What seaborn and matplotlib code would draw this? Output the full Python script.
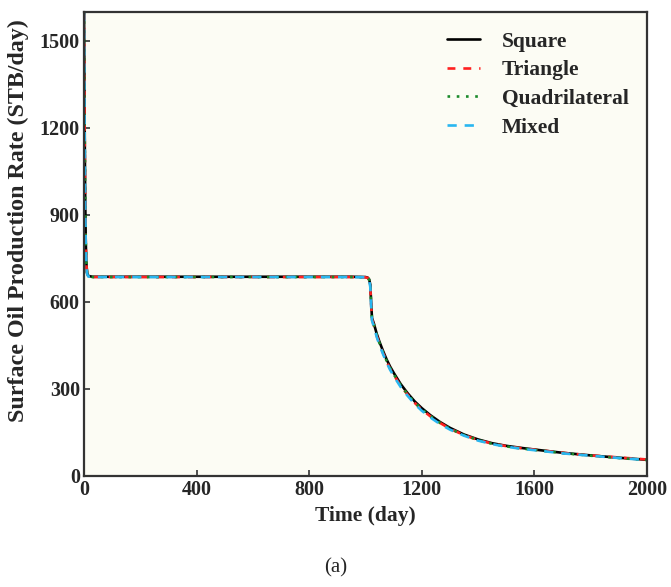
import numpy as np
import pandas as pd
import matplotlib
matplotlib.use("Agg")
import matplotlib.pyplot as plt
import seaborn as sns

# ---- data ----
time = [0, 2, 4, 6, 8, 11, 15, 30, 200, 400, 600, 800, 950, 1000, 1008, 1013, 1017, 1020, 1023,
        1030, 1040, 1050, 1062, 1075, 1087, 1100, 1125, 1150, 1175, 1200, 1230, 1265, 1300, 1350,
        1400, 1450, 1500, 1560, 1620, 1700, 1800, 1900, 2000]
square = [1600, 1250, 980, 820, 740, 700, 690, 687, 687, 687, 687, 687, 687, 686, 684, 678, 660, 600, 545,
          525, 490, 462, 432, 402, 378, 356, 317, 285, 257, 234, 210, 186, 166, 143,
          126, 113, 104, 96, 89, 80, 71, 63, 56]
triangle = [1600, 1240, 970, 815, 735, 698, 689, 686, 686, 686, 686, 686, 686, 685, 683, 676, 655, 592, 540,
            518, 483, 455, 425, 395, 371, 349, 311, 280, 252, 229, 206, 183, 163, 141,
            124, 112, 103, 95, 89, 80, 71, 64, 57]
quadrilateral = [1600, 1245, 975, 818, 738, 699, 689, 686, 686, 686, 686, 686, 686, 685, 683, 677, 658, 596, 542,
                 520, 486, 457, 427, 397, 373, 351, 313, 281, 253, 230, 207, 183, 163, 141,
                 124, 111, 102, 94, 88, 79, 70, 62, 55]
mixed = [1600, 1235, 965, 810, 732, 697, 688, 686, 686, 686, 686, 686, 686, 685, 682, 675, 652, 588, 536,
         514, 479, 451, 421, 391, 367, 345, 307, 276, 248, 225, 202, 179, 160, 139,
         122, 110, 101, 93, 87, 78, 70, 62, 55]

series_names = ["Square", "Triangle", "Quadrilateral", "Mixed"]
x_ticks = [0, 400, 800, 1200, 1600, 2000]
y_ticks = [0, 300, 600, 900, 1200, 1500]

df = pd.concat([
    pd.DataFrame({"Time": time, "Rate": vals, "Grid": name})
    for name, vals in zip(series_names, [square, triangle, quadrilateral, mixed])
], ignore_index=True)

sns.set_style("ticks")
plt.rcParams["font.family"] = ["Liberation Serif", "DejaVu Serif"]

fig = plt.figure(figsize=(6.71, 5.87), dpi=100)
ax = fig.add_axes([0.1252, 0.1891, 0.8390, 0.7905])
ax.set_facecolor("#fcfcf4")

palette = {"Square": "#000000", "Triangle": "#ff2020", "Quadrilateral": "#1a8a2a", "Mixed": "#29b6f0"}
dashes = {"Square": "", "Triangle": (3, 3), "Quadrilateral": (1, 2.5, 1, 2.5), "Mixed": (3.5, 3)}

sns.lineplot(data=df, x="Time", y="Rate", hue="Grid", style="Grid",
             hue_order=series_names, style_order=series_names,
             palette=palette, dashes=dashes, linewidth=1.9, ax=ax, legend=True,
             estimator=None, sort=False)

ax.set_xlim(0, 2000)
ax.set_ylim(0, 1600)
ax.set_xticks(x_ticks)
ax.set_yticks(y_ticks)
ax.set_xticklabels([str(v) for v in x_ticks], fontweight="bold", fontsize=14.5)
ax.set_yticklabels([str(v) for v in y_ticks], fontweight="bold", fontsize=14.5)
ax.tick_params(direction="in", length=4, width=1.2, color="#333333", pad=3)
for s in ax.spines.values():
    s.set_visible(True)
    s.set_linewidth(1.6)
    s.set_color("#333333")

ax.set_xlabel("Time (day)", fontweight="bold", fontsize=15.5, labelpad=4)
ax.set_ylabel("Surface Oil Production Rate (STB/day)", fontweight="bold", fontsize=17.3)
ax.yaxis.set_label_coords(-0.097, 0.55)

leg = ax.legend(loc="upper left", frameon=False, fontsize=15.5, handlelength=1.55,
                handletextpad=1.0, labelspacing=0.4, borderpad=0, borderaxespad=0,
                bbox_to_anchor=(0.645, 0.958))
for t in leg.get_texts():
    t.set_fontweight("bold")

fig.text(0.5, 0.033, "(a)", ha="center", va="center", fontsize=15)

fig.savefig("out.png", dpi=100, facecolor="white")
